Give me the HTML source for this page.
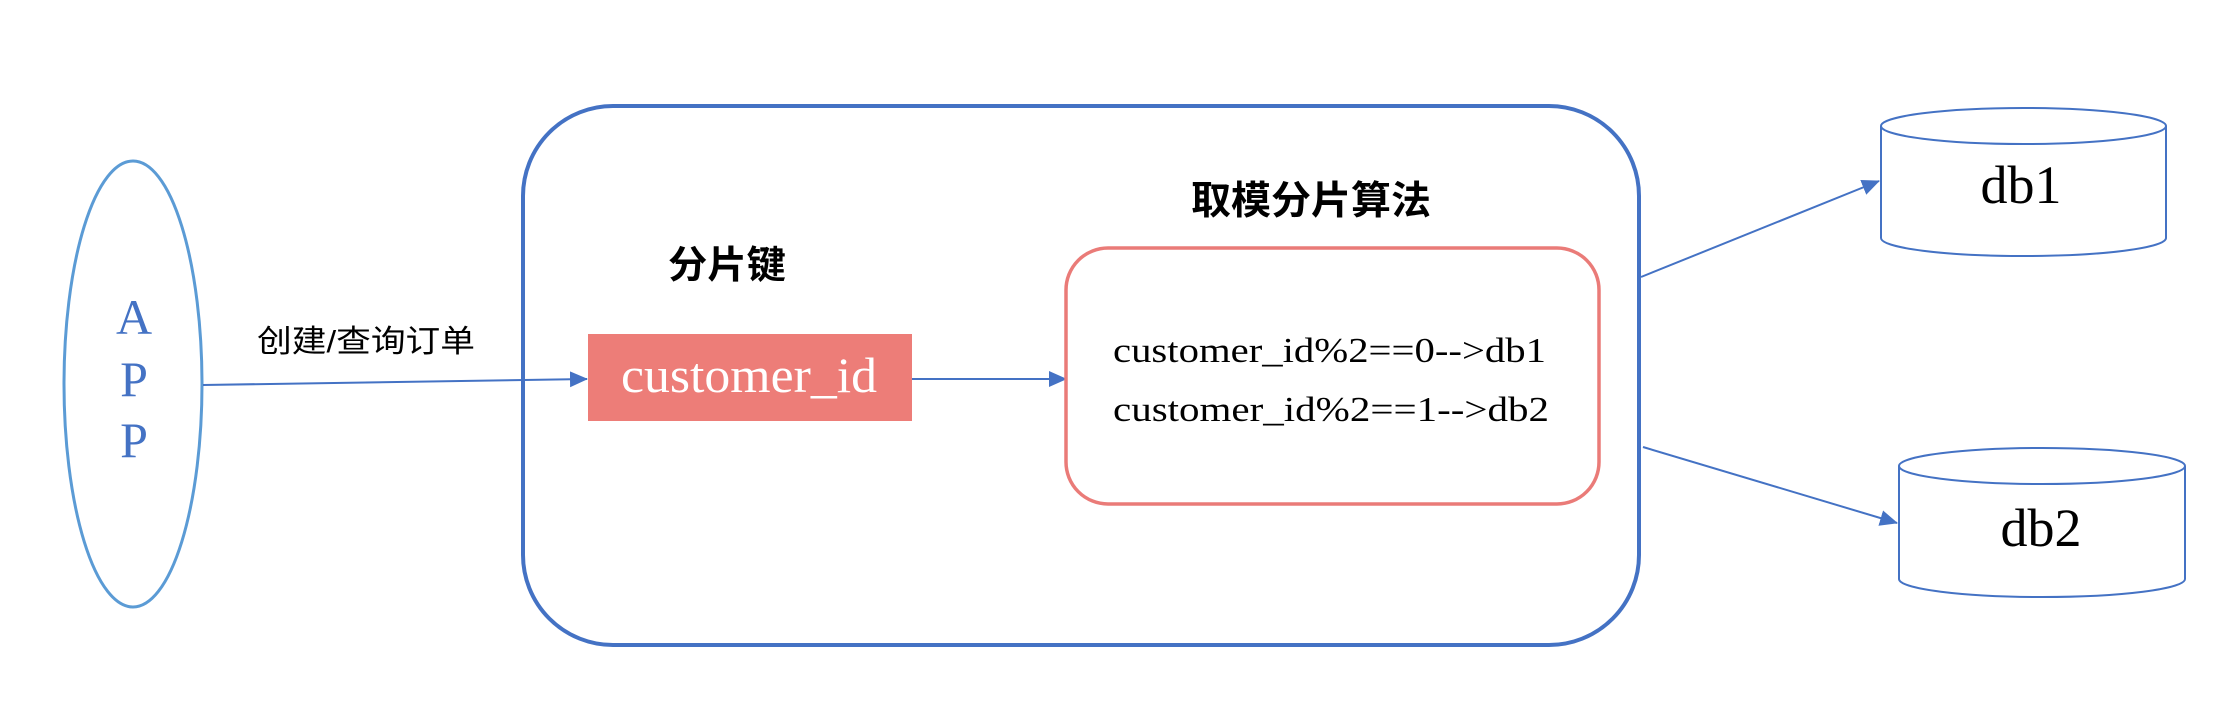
<!DOCTYPE html>
<html><head><meta charset="utf-8"><style>
html,body{margin:0;padding:0;background:#fff;}
svg{display:block}
.cn{font-family:"Liberation Sans","Noto Sans CJK SC",sans-serif;}
.sf{font-family:"Liberation Serif","Noto Serif CJK SC",serif;}
</style></head><body>
<svg width="2240" height="710" viewBox="0 0 2240 710" xmlns="http://www.w3.org/2000/svg">
<defs>
<marker id="ah2" markerWidth="18" markerHeight="16" refX="17" refY="8" orient="auto" markerUnits="userSpaceOnUse" viewBox="0 0 18 16">
<path d="M0,0 L18,8 L0,16 z" fill="#4472c4"/>
</marker>
</defs>
<ellipse cx="133" cy="384" rx="69" ry="223" fill="none" stroke="#5b9bd5" stroke-width="3"/>
<g class="sf" fill="#4472c4" font-size="50" text-anchor="middle">
<text x="134" y="334">A</text>
<text x="134" y="396">P</text>
<text x="134" y="457">P</text>
</g>
<text class="cn" x="257" y="352" font-size="31" fill="#000" textLength="218" lengthAdjust="spacingAndGlyphs">创建/查询订单</text>
<line x1="203" y1="385" x2="587" y2="379" stroke="#4472c4" stroke-width="2" marker-end="url(#ah2)"/>
<rect x="523" y="106" width="1116" height="539" rx="90" ry="90" fill="none" stroke="#4472c4" stroke-width="4"/>
<text class="cn" x="668" y="278" font-size="38" font-weight="bold" fill="#000" textLength="118" lengthAdjust="spacingAndGlyphs">分片键</text>
<rect x="588" y="334" width="324" height="87" fill="#ed7d78"/>
<text class="sf" x="621" y="392" font-size="50" fill="#fff" textLength="256" lengthAdjust="spacingAndGlyphs">customer_id</text>
<line x1="912" y1="379" x2="1066" y2="379" stroke="#4472c4" stroke-width="2" marker-end="url(#ah2)"/>
<rect x="1066" y="248" width="533" height="256" rx="42" ry="42" fill="none" stroke="#ea7b78" stroke-width="3.5"/>
<text class="cn" x="1191" y="214" font-size="39" font-weight="bold" fill="#000" textLength="240" lengthAdjust="spacingAndGlyphs">取模分片算法</text>
<text class="sf" x="1113" y="362" font-size="35" fill="#000" textLength="433" lengthAdjust="spacingAndGlyphs">customer_id%2==0--&gt;db1</text>
<text class="sf" x="1113" y="421" font-size="35" fill="#000" textLength="436" lengthAdjust="spacingAndGlyphs">customer_id%2==1--&gt;db2</text>
<line x1="1641" y1="277" x2="1879" y2="181" stroke="#4472c4" stroke-width="2" marker-end="url(#ah2)"/>
<line x1="1643" y1="447" x2="1897" y2="523" stroke="#4472c4" stroke-width="2" marker-end="url(#ah2)"/>
<g fill="none" stroke="#4472c4" stroke-width="2">
<path d="M1881,126 L1881,238 A142.5,18 0 0 0 2166,238 L2166,126"/>
<ellipse cx="2023.5" cy="126" rx="142.5" ry="18"/>
<path d="M1899,466 L1899,579 A143,18 0 0 0 2185,579 L2185,466"/>
<ellipse cx="2042" cy="466" rx="143" ry="18"/>
</g>
<text class="sf" x="2021" y="203" font-size="54" fill="#000" text-anchor="middle">db1</text>
<text class="sf" x="2041" y="546" font-size="54" fill="#000" text-anchor="middle">db2</text>
</svg>
</body></html>
